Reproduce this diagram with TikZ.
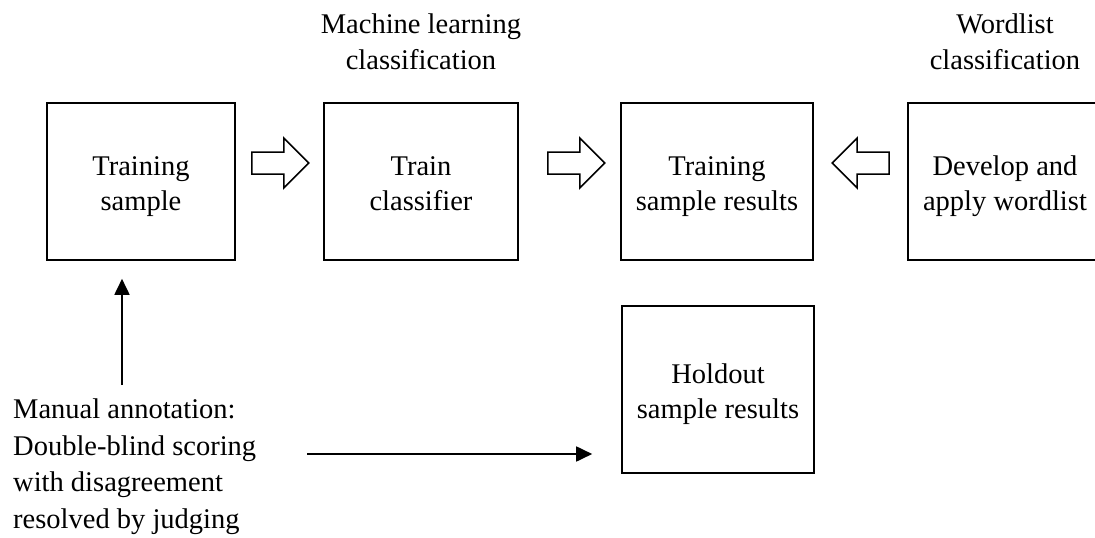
\documentclass[tikz,border=0pt]{standalone}
\usepackage{fontspec}
\setmainfont{Liberation Serif}
\usetikzlibrary{arrows.meta,calc}

% struts giving every two-line label the same baseline positions
\newcommand\hiline{\rule{0pt}{30pt}}
\newcommand\loline{\rule[-7.5pt]{0pt}{7.5pt}}

\tikzset{
  stage/.style={draw, line width=1.6pt, inner sep=0pt, align=center,
    font=\fontsize{28.5}{35.5}\selectfont},
  caption/.style={inner sep=0pt, align=center,
    font=\fontsize{28.5}{35.5}\selectfont},
  note/.style={inner sep=0pt, align=left,
    font=\fontsize{28.5}{36.5}\selectfont},
  fatarrow/.style={draw, line width=1.5pt, fill=white, line join=miter},
  conn/.style={line width=1.8pt, -{Triangle[length=16pt,width=15pt]}},
}

\begin{document}
\begin{tikzpicture}[x=1pt, y=-1pt]
  \useasboundingbox (0,0) rectangle (1095,538);
  \clip (0,0) rectangle (1095,538);

  % process stages
  \node[stage, minimum width=188pt, minimum height=157pt] (train)  at (141,181.5) {\hiline Training\\sample\loline};
  \node[stage, minimum width=194pt, minimum height=157pt] (clf)    at (421,181.5) {\hiline Train\\classifier\loline};
  \node[stage, minimum width=192pt, minimum height=157pt] (tres)   at (717,181.5) {\hiline Training\\sample results\loline};
  \node[stage, minimum width=194pt, minimum height=157pt] (words)  at (1005,181.5) {\hiline Develop and\\apply wordlist\loline};
  \node[stage, minimum width=192pt, minimum height=167pt] (hold)   at (718,389.5) {\hiline Holdout\\sample results\loline};

  % headings above the two classification routes
  \node[caption] (mlhead) at (421,40) {\hiline Machine learning\\classification\loline};
  \node[caption] (wlhead) at (1005,40) {\hiline Wordlist\\classification\loline};

  % annotation source
  \node[note, anchor=north west] (annot) at (13,399) {Manual annotation:\\Double-blind scoring\\with disagreement\\resolved by judging};

  % hollow block arrows between stages
  \draw[fatarrow] ($(train.east)+(16,-29.5)$) -- ++(32,0) -- ++(0,-14) -- ++(25,25)
    -- ++(-25,25) -- ++(0,-14) -- ++(-32,0) -- cycle;
  \draw[fatarrow] ($(clf.east)+(29,-29.5)$) -- ++(32,0) -- ++(0,-14) -- ++(25,25)
    -- ++(-25,25) -- ++(0,-14) -- ++(-32,0) -- cycle;
  \draw[fatarrow] ($(words.west)+(-18,-29.5)$) -- ++(-32,0) -- ++(0,-14) -- ++(-25,25)
    -- ++(25,25) -- ++(0,-14) -- ++(32,0) -- cycle;

  % annotation feeds the training and holdout samples
  \coordinate (upfoot) at (122,385);
  \coordinate (rightfoot) at (307,454);
  \draw[conn, shorten >=18pt] (upfoot) -- (upfoot |- train.south);
  \draw[conn, shorten >=29pt] (rightfoot) -- (rightfoot -| hold.west);
\end{tikzpicture}
\end{document}
